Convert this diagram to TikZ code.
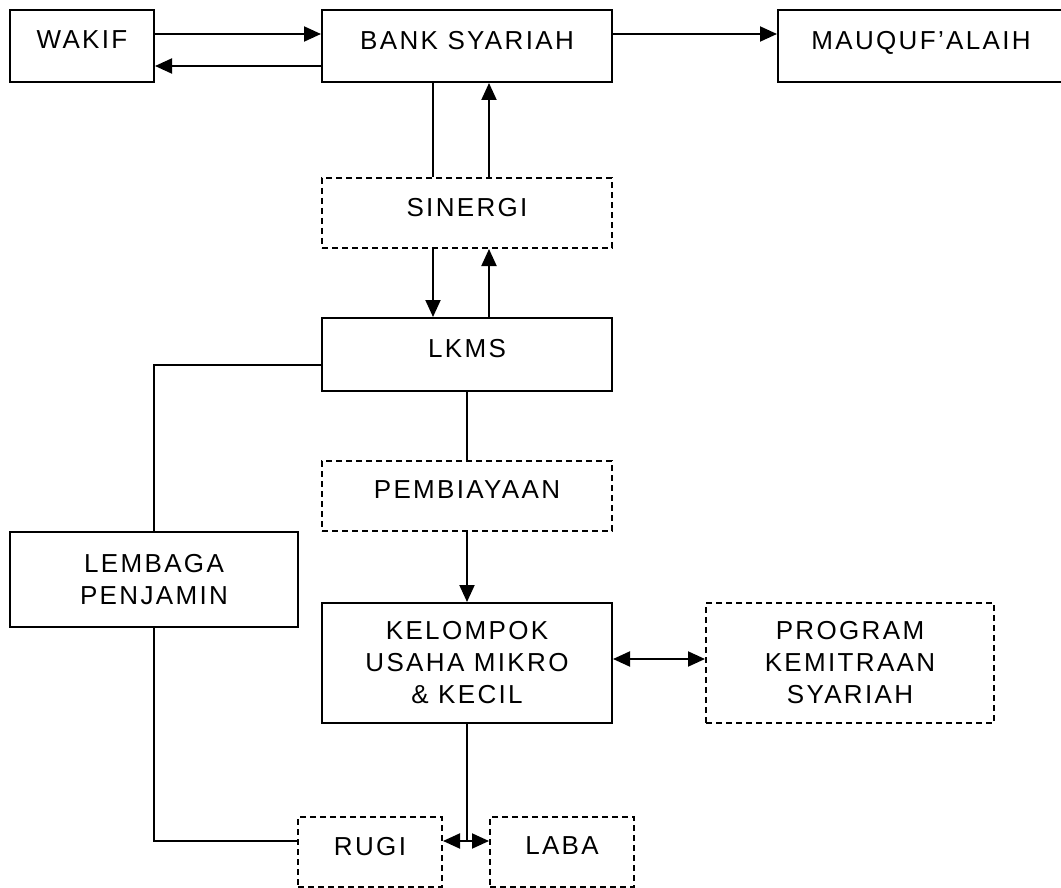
\documentclass[tikz,border=0pt]{standalone}
\usepackage{fontspec}
\setmainfont{Liberation Sans}[LetterSpace=9]
\usetikzlibrary{arrows.meta}
\tikzset{
  base/.style={draw, line width=2pt, inner sep=0pt, align=center,
    font=\fontsize{26}{32}\selectfont},
  solidbox/.style={base},
  dashbox/.style={base, dash pattern=on 6pt off 4pt},
  oneline/.style={text depth=12pt},
  conn/.style={line width=2pt},
  arr/.style={conn, -{Triangle[length=17pt,width=15pt]}},
  darr/.style={conn, {Triangle[length=17pt,width=15pt]}-{Triangle[length=17pt,width=15pt]}},
}
\begin{document}
\begin{tikzpicture}[x=1pt,y=-1pt]
\useasboundingbox (0,0) rectangle (1061,888);
% nodes
\node[solidbox, oneline, minimum width=144pt, minimum height=72pt] (wakif) at (82,46) {WAKIF};
\node[solidbox, oneline, minimum width=290pt, minimum height=72pt] (bank) at (467,46) {BANK SYARIAH};
\node[solidbox, oneline, minimum width=286pt, minimum height=72pt] (mauquf) at (921,46) {MAUQUF’ALAIH};
\node[dashbox, oneline, minimum width=290pt, minimum height=70pt] (sinergi) at (467,213) {SINERGI};
\node[solidbox, oneline, minimum width=290pt, minimum height=73pt] (lkms) at (467,354.5) {LKMS};
\node[dashbox, oneline, minimum width=290pt, minimum height=70pt] (pembiayaan) at (467,496) {PEMBIAYAAN};
\node[solidbox, minimum width=290pt, minimum height=120pt] (kelompok) at (467,663) {KELOMPOK\\USAHA MIKRO\\\& KECIL};
\node[dashbox, minimum width=288pt, minimum height=120pt] (program) at (850,663) {PROGRAM\\KEMITRAAN\\SYARIAH};
\node[solidbox, minimum width=288pt, minimum height=95pt] (lembaga) at (154,579.5) {LEMBAGA\\PENJAMIN};
\node[dashbox, oneline, minimum width=144pt, minimum height=70pt] (rugi) at (370,852) {RUGI};
\node[dashbox, oneline, minimum width=144pt, minimum height=70pt] (laba) at (562,852) {LABA};
% connectors
\draw[arr] ([yshift=12pt]wakif.east) -- ([yshift=12pt]bank.west);
\draw[arr] ([yshift=-20pt]bank.west) -- ([yshift=-20pt]wakif.east);
\draw[arr] ([yshift=12pt]bank.east) -- ([yshift=12pt]mauquf.west);
\draw[conn] ([xshift=-34pt]bank.south) -- ([xshift=-34pt]sinergi.north);
\draw[arr] ([xshift=22pt]sinergi.north) -- ([xshift=22pt]bank.south);
\draw[arr] ([xshift=-34pt]sinergi.south) -- ([xshift=-34pt]lkms.north);
\draw[arr] ([xshift=22pt]lkms.north) -- ([xshift=22pt]sinergi.south);
\draw[conn] ([yshift=-10.5pt]lkms.west) -| (lembaga.north);
\draw[conn] (lkms.south) -- (pembiayaan.north);
\draw[arr] (pembiayaan.south) -- (kelompok.north);
\draw[darr] ([yshift=4pt]kelompok.east) -- ([yshift=4pt]program.west);
\draw[conn] (lembaga.south) |- ([yshift=11pt]rugi.west);
\coordinate (split) at (kelompok.south |- 0,841);
\draw[conn] (kelompok.south) -- (split);
\draw[darr] ([yshift=11pt]rugi.east) -- ([yshift=11pt]laba.west);
\end{tikzpicture}
\end{document}
